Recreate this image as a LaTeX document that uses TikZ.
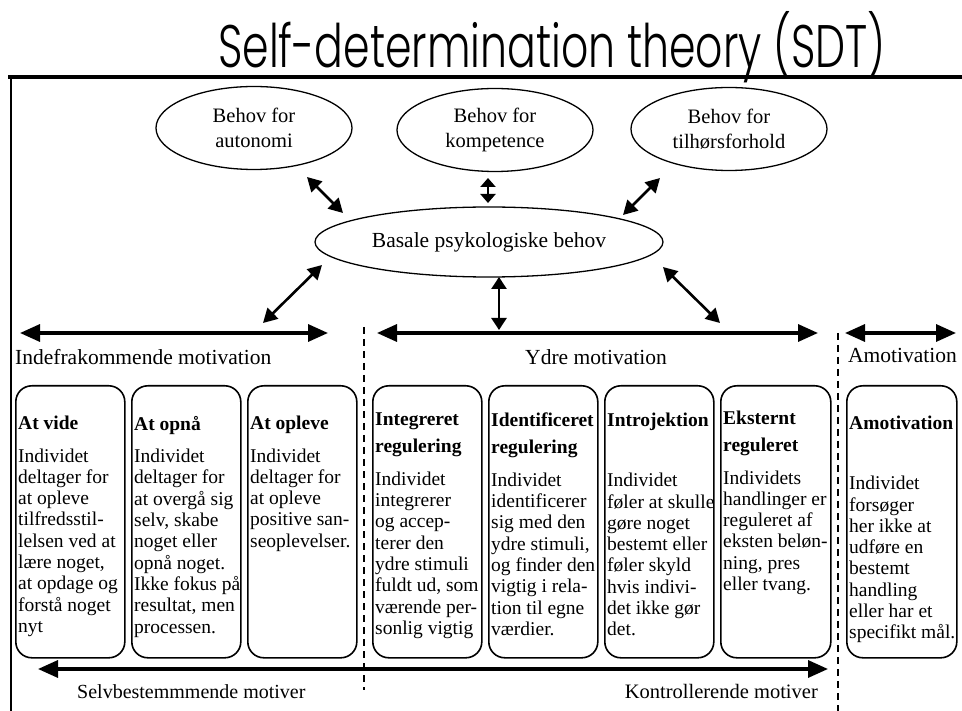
\documentclass[tikz,border=0pt]{standalone}
\usepackage{fontspec}
\setmainfont{Liberation Serif}
\newfontfamily\titlefont{Poppins Light}
\usetikzlibrary{shapes.geometric,arrows.meta}

\tikzset{
  need/.style={ellipse, draw, line width=1.3pt, minimum width=196pt, minimum height=83pt,
    align=center, inner sep=0pt, font=\fontsize{20.5}{25}\selectfont},
  link/.style={{Triangle[length=14pt,width=15pt]}-{Triangle[length=14pt,width=15pt]}, line width=2.6pt},
  rangearrow/.style={{Triangle[length=20pt,width=17pt]}-{Triangle[length=20pt,width=17pt]}, line width=3.3pt},
  divider/.style={line width=2pt, dash pattern=on 7pt off 5pt},
  grouplabel/.style={inner sep=0pt, font=\fontsize{21.5}{24}\selectfont},
  motivbox/.style={draw, line width=1.6pt, rounded corners=16pt, minimum width=109pt,
    minimum height=272pt, anchor=north west, inner sep=0pt},
  motivtext/.style={anchor=north west, align=left, inner sep=0pt, font=\fontsize{19.5}{21.3}\selectfont}
}

\begin{document}
\begin{tikzpicture}[x=1pt,y=-1pt]
  \useasboundingbox (0,0) rectangle (962,711);

  % title and frame
  \node[anchor=base, inner sep=0pt, font=\titlefont\fontsize{60}{64}\selectfont] (title) at (552,68)
    {\scalebox{0.71}[1]{Self-determination theory (SDT)}};
  \draw[line width=4pt] (8,77) -- (962,77);
  \draw[line width=2pt] (11,77) -- (11,711);

  % needs
  \node[need] (autonomi) at (254,128) {Behov for\\autonomi};
  \node[need] (kompetence) at (495,130) {Behov for\\kompetence};
  \node[need] (tilhor) at (729,129) {Behov for\\tilhørsforhold};
  \node[need, minimum width=348pt, minimum height=70pt, font=\fontsize{21.5}{24}\selectfont] (basale) at (489,242)
    {Basale psykologiske behov};

  \draw[link] ([shift={(53,49)}]autonomi.center) -- ([shift={(-146,-29)}]basale.center);
  \draw[link, {Triangle[length=9pt,width=15pt]}-{Triangle[length=9pt,width=15pt]}]
    ([shift={(-7,48)}]kompetence.center) -- ([shift={(-1,-39)}]basale.center);
  \draw[link] ([shift={(-69,49)}]tilhor.center) -- ([shift={(134,-27)}]basale.center);

  % ranges
  \coordinate (inL) at (20,333);
  \coordinate (inR) at (328,333);
  \coordinate (ydL) at (377,333);
  \coordinate (ydR) at (818,333);
  \coordinate (amL) at (845,333);
  \coordinate (amR) at (956,333);
  \coordinate (toIndre) at (263,323);
  \coordinate (toYdre) at (499,330);
  \coordinate (toYdreR) at (720,323);

  \draw[rangearrow] (inL) -- (inR);
  \draw[rangearrow] (ydL) -- (ydR);
  \draw[rangearrow] (amL) -- (amR);

  \draw[link] ([shift={(-167,23)}]basale.center) -- (toIndre);
  \draw[link, {Triangle[length=12pt,width=15pt]}-{Triangle[length=12pt,width=15pt]}]
    ([shift={(10,35)}]basale.center) -- (toYdre);
  \draw[link] ([shift={(174,25)}]basale.center) -- (toYdreR);

  \node[grouplabel, anchor=west] (indre) at (15,357) {Indefrakommende motivation};
  \node[grouplabel] (ydre) at (596,357) {Ydre motivation};
  \node[grouplabel, anchor=west] (amot) at (848,355) {Amotivation};

  \draw[divider] (364,327) -- (364,690);
  \draw[divider] (838,333) -- (838,711);

  % boxes
  \node[motivbox] (vide) at (15,385) {};
  \node[motivbox] (opnaa) at (131,385) {};
  \node[motivbox] (opleve) at (247,385) {};
  \node[motivbox] (integreret) at (372,385) {};
  \node[motivbox] (identificeret) at (488,385) {};
  \node[motivbox] (introjektion) at (604,385) {};
  \node[motivbox, minimum width=110pt] (eksternt) at (720,385) {};
  \node[motivbox, minimum width=110pt] (amotiv) at (846,385) {};

  \node[motivtext] at ([shift={(3,31)}]vide.north west)
    {\textbf{At vide}\\[11pt]Individet\\deltager for\\at opleve\\tilfredsstil-\\lelsen ved at\\lære noget,\\at opdage og\\forstå noget\\nyt};
  \node[motivtext] at ([shift={(3,31)}]opnaa.north west)
    {\textbf{At opnå}\\[11pt]Individet\\deltager for\\at overgå sig\\selv, skabe\\noget eller\\opnå noget.\\Ikke fokus på\\resultat, men\\processen.};
  \node[motivtext] at ([shift={(3,31)}]opleve.north west)
    {\textbf{At opleve}\\[11pt]Individet\\deltager for\\at opleve\\positive san-\\seoplevelser.};
  \node[motivtext] at ([shift={(3,28)}]integreret.north west)
    {\textbf{Integreret}\\[5.7pt]\textbf{regulering}\\[11pt]Individet\\integrerer\\og accep-\\terer den\\ydre stimuli\\fuldt ud, som\\værende per-\\sonlig vigtig};
  \node[motivtext] at ([shift={(3,28)}]identificeret.north west)
    {\textbf{Identificeret}\\[5.7pt]\textbf{regulering}\\[11pt]Individet\\identificerer\\sig med den\\ydre stimuli,\\og finder den\\vigtig i rela-\\tion til egne\\værdier.};
  \node[motivtext] at ([shift={(3,28)}]introjektion.north west)
    {\textbf{Introjektion}\\[38.7pt]Individet\\føler at skulle\\gøre noget\\bestemt eller\\føler skyld\\hvis indivi-\\det ikke gør\\det.};
  \node[motivtext] at ([shift={(3,26)}]eksternt.north west)
    {\textbf{Eksternt}\\[5.7pt]\textbf{reguleret}\\[11pt]Individets\\handlinger er\\reguleret af\\eksten beløn-\\ning, pres\\eller tvang.};
  \node[motivtext] at ([shift={(3,31)}]amotiv.north west)
    {\textbf{Amotivation}\\[38.7pt]Individet\\forsøger\\her ikke at\\udføre en\\bestemt\\handling\\eller har et\\specifikt mål.};

  % bottom scale
  \coordinate (selvL) at (38,669);
  \coordinate (selvR) at (828,669);
  \draw[rangearrow] (selvL) -- (selvR);
  \node[grouplabel, anchor=base west, font=\fontsize{20}{24}\selectfont] (selv) at (77,698) {Selvbestemmmende motiver};
  \node[grouplabel, anchor=base east, font=\fontsize{20.5}{24}\selectfont] (kontrol) at (818,698) {Kontrollerende motiver};
\end{tikzpicture}
\end{document}
